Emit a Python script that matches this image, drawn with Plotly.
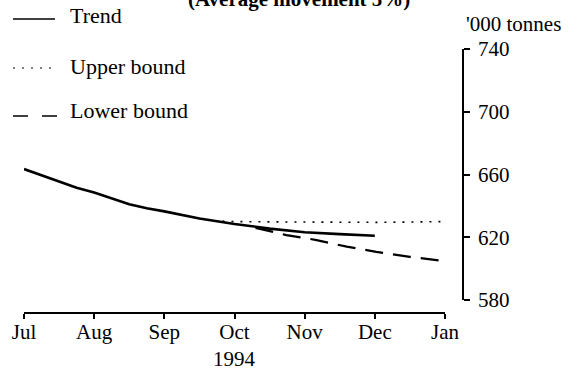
import plotly.graph_objects as go

# Month positions (0 = Jul 1994 ... 6 = Jan 1995)
month_labels = ["Jul", "Aug", "Sep", "Oct", "Nov", "Dec", "Jan"]
month_ticks = [0, 1, 2, 3, 4, 5, 6]

trend_t = [0, 0.25, 0.5, 0.75, 1, 1.25, 1.5, 1.75, 2, 2.5, 3, 3.5, 4, 4.5, 5]
trend_v = [663.5, 659.5, 655.5, 651.5, 648.5, 644.5, 641, 638.5, 636.5, 632,
           628.5, 625.5, 623.2, 622, 621]

upper_t = [2.7, 3, 3.5, 4, 4.5, 5, 5.5, 5.95]
upper_v = [630.5, 630, 629.8, 629.6, 629.5, 629.5, 629.7, 630]

lower_t = [3.3, 3.74, 4.17, 4.6, 5.02, 5.5, 5.95]
lower_v = [626, 621.4, 618.2, 614, 610.7, 607.5, 605]

y_ticks = [580, 620, 660, 700, 740]

W, H = 586, 371
FONT = "Liberation Serif"
INK = "#000000"


def px(x):
    return x / W


def py(y):
    return 1 - y / H


fig = go.Figure()
fig.add_trace(go.Scatter(x=upper_t, y=upper_v, mode="lines",
                         line=dict(color=INK, width=1.6, dash="2px,7px")))
fig.add_trace(go.Scatter(x=lower_t, y=lower_v, mode="lines",
                         line=dict(color=INK, width=2.2, dash="18px,10px")))
fig.add_trace(go.Scatter(x=trend_t, y=trend_v, mode="lines",
                         line=dict(color=INK, width=2.6)))

fig.update_layout(
    width=W, height=H,
    margin=dict(l=0, r=0, t=0, b=0),
    paper_bgcolor="white", plot_bgcolor="white",
    showlegend=False,
    font=dict(family=FONT, size=21, color=INK),
    xaxis=dict(
        domain=[px(24), px(445)], range=[0, 6],
        anchor="free", position=py(312.7),
        tickmode="array", tickvals=month_ticks, ticktext=month_labels,
        ticks="outside", ticklen=5, tickwidth=1.5, tickcolor=INK,
        showline=True, linecolor=INK, linewidth=1.8,
        showgrid=False, zeroline=False, automargin=False,
        tickfont=dict(family=FONT, size=21, color=INK),
        ticklabelstandoff=-5,
    ),
    yaxis=dict(
        domain=[py(300), py(49)], range=[580, 740],
        anchor="free", position=px(463), side="right",
        tickmode="array", tickvals=y_ticks,
        ticks="outside", ticklen=6, tickwidth=1.5, tickcolor=INK,
        showline=True, linecolor=INK, linewidth=1.8,
        showgrid=False, zeroline=False, automargin=False,
        tickfont=dict(family=FONT, size=21, color=INK),
        ticklabelstandoff=4,
    ),
)

annotations = [
    dict(text="<b>(Average movement 5%)</b>", x=px(299), y=py(-1),
         xanchor="center", yanchor="middle", font=dict(size=21)),
    dict(text="'000 tonnes", x=px(464), y=py(24),
         xanchor="left", yanchor="middle", font=dict(size=21)),
    dict(text="1994", x=px(234), y=py(359),
         xanchor="center", yanchor="middle", font=dict(size=21)),
    dict(text="Trend", x=px(68), y=py(16),
         xanchor="left", yanchor="middle", font=dict(size=22)),
    dict(text="Upper bound", x=px(68), y=py(66),
         xanchor="left", yanchor="middle", font=dict(size=22)),
    dict(text="Lower bound", x=px(68), y=py(110),
         xanchor="left", yanchor="middle", font=dict(size=22)),
]
for a in annotations:
    a.update(xref="paper", yref="paper", showarrow=False)
fig.update_layout(annotations=annotations)

# Legend key samples
shapes = [
    dict(type="line", x0=px(13), x1=px(55), y0=py(19), y1=py(19),
         line=dict(color=INK, width=1.6)),
    dict(type="line", x0=px(13), x1=px(54), y0=py(68), y1=py(68),
         line=dict(color=INK, width=1.2, dash="2px,7px")),
    dict(type="line", x0=px(13), x1=px(58), y0=py(116), y1=py(116),
         line=dict(color=INK, width=1.6, dash="15px,14px")),
]
for s in shapes:
    s.update(xref="paper", yref="paper")
fig.update_layout(shapes=shapes)

fig.write_html("out.html")
